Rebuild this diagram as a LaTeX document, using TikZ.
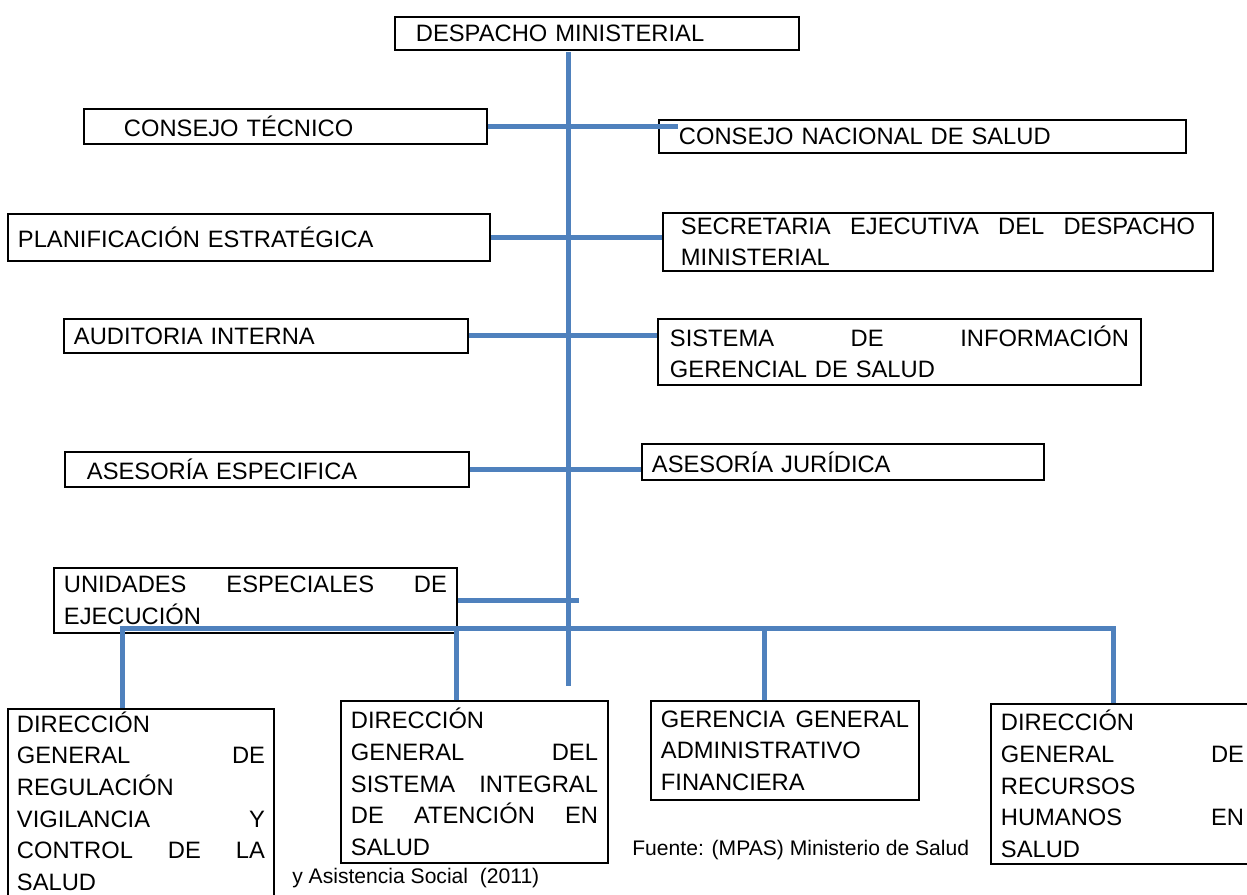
\documentclass[tikz,border=0pt]{standalone}
\usepackage{fontspec}
\setmainfont{Liberation Sans}
\definecolor{OrgBlue}{HTML}{4F81BD}
\definecolor{BoxBlack}{HTML}{000000}

\begin{document}
\begin{tikzpicture}[x=0.2mm, y=-0.2mm,
    unit/.style={draw=BoxBlack, line width=1.1pt, anchor=north west,
      inner ysep=0pt, align=left, font=\fontsize{13.5}{18}\selectfont},
    link/.style={draw=OrgBlue, line width=1mm},
    note/.style={inner sep=0pt, anchor=west, font=\fontsize{12}{14}\selectfont}]
  \useasboundingbox (0,0) rectangle (1247,895);
  \clip (0,0) rectangle (1247,895);
  % Top
  \node[unit, inner xsep=4.2mm, text width=72.4mm, minimum height=6.6mm]
    (despacho) at (394,16) {DESPACHO MINISTERIAL};
  % Left column
  \node[unit, inner xsep=8mm, text width=64.6mm, minimum height=7mm]
    (ct) at (83,108) {CONSEJO TÉCNICO};
  \node[unit, inner xsep=2mm, text width=92.4mm, minimum height=9.4mm]
    (pe) at (7,213) {PLANIFICACIÓN ESTRATÉGICA};
  \node[unit, inner xsep=2mm, text width=76.8mm, minimum height=6.8mm]
    (ai) at (63,318) {AUDITORIA INTERNA};
  \node[unit, inner xsep=4.4mm, text width=72mm, minimum height=7mm]
    (ae) at (64,451) {ASESORÍA ESPECIFICA};
  \node[unit, inner xsep=2mm, text width=76.6mm, minimum height=13mm]
    (uni) at (53,567) {UNIDADES\hfill ESPECIALES\hfill DE\\EJECUCIÓN};
  % Right column
  \node[unit, inner xsep=4mm, text width=97.4mm, minimum height=6.6mm]
    (cns) at (658,119) {CONSEJO NACIONAL DE SALUD};
  \node[unit, inner xsep=3.6mm, text width=102.8mm, minimum height=11.6mm]
    (sec) at (662,212) {SECRETARIA\hfill EJECUTIVA\hfill DEL\hfill DESPACHO\\MINISTERIAL};
  \node[unit, inner xsep=2.4mm, text width=91.8mm, minimum height=13.2mm]
    (sig) at (657,318) {SISTEMA\hfill DE\hfill INFORMACIÓN\\GERENCIAL DE SALUD};
  \node[unit, inner xsep=2mm, text width=76.4mm, minimum height=7.2mm]
    (aj) at (641,443) {ASESORÍA JURÍDICA};
  % Bottom row
  \node[unit, inner xsep=1.8mm, text width=49.6mm, minimum height=40mm]
    (dgr) at (7,708) {DIRECCIÓN\\GENERAL\hfill DE\\REGULACIÓN\\VIGILANCIA\hfill Y\\CONTROL\hfill DE\hfill LA\\SALUD\rule[-3.2mm]{0pt}{0pt}};
  \node[unit, inner xsep=2mm, text width=49.4mm, minimum height=32.4mm]
    (sis) at (340,700) {DIRECCIÓN\\GENERAL\hfill DEL\\SISTEMA\hfill INTEGRAL\\DE\hfill ATENCIÓN\hfill EN\\SALUD};
  \node[unit, inner xsep=2mm, text width=49.6mm, minimum height=19.8mm]
    (ger) at (650,700) {GERENCIA\hfill GENERAL\\ADMINISTRATIVO\\FINANCIERA};
  \node[unit, inner xsep=2mm, text width=48.6mm, minimum height=32mm]
    (rh) at (990,703) {DIRECCIÓN\\GENERAL\hfill DE\\RECURSOS\\HUMANOS\hfill EN\\SALUD};
  % Source
  \node[note] (fuente) at (632,850) {Fuente: (MPAS) Ministerio de Salud};
  \node[note] (asist) at (292,878) {y Asistencia Social~ (2011)};
  % Connectors
  \coordinate (trunktop) at (568,52);
  \coordinate (trunkend) at (568,686);
  \coordinate (bar) at (0,628);
  \draw[link] (trunktop) -- (trunkend);
  \draw[link] (ct.east) -- ([xshift=4mm]cns.west |- ct.east);
  \draw[link] (pe.east) -- (sec.west |- pe.east);
  \draw[link] (ai.east) -- (sig.west |- ai.east);
  \draw[link] (ae.east) -- (aj.west |- ae.east);
  \draw[link] (uni.east) -- ++(121,0);
  \draw[link] ([xshift=-3.6mm]dgr.north) |- ([xshift=-1.7mm]rh.north |- bar)
    -- ([xshift=-1.7mm]rh.north);
  \foreach \n/\dx in {sis/-3.5mm, ger/-4mm}
    \draw[link] ([xshift=\dx]\n.north) -- ([xshift=\dx]\n.north |- bar);
\end{tikzpicture}
\end{document}
